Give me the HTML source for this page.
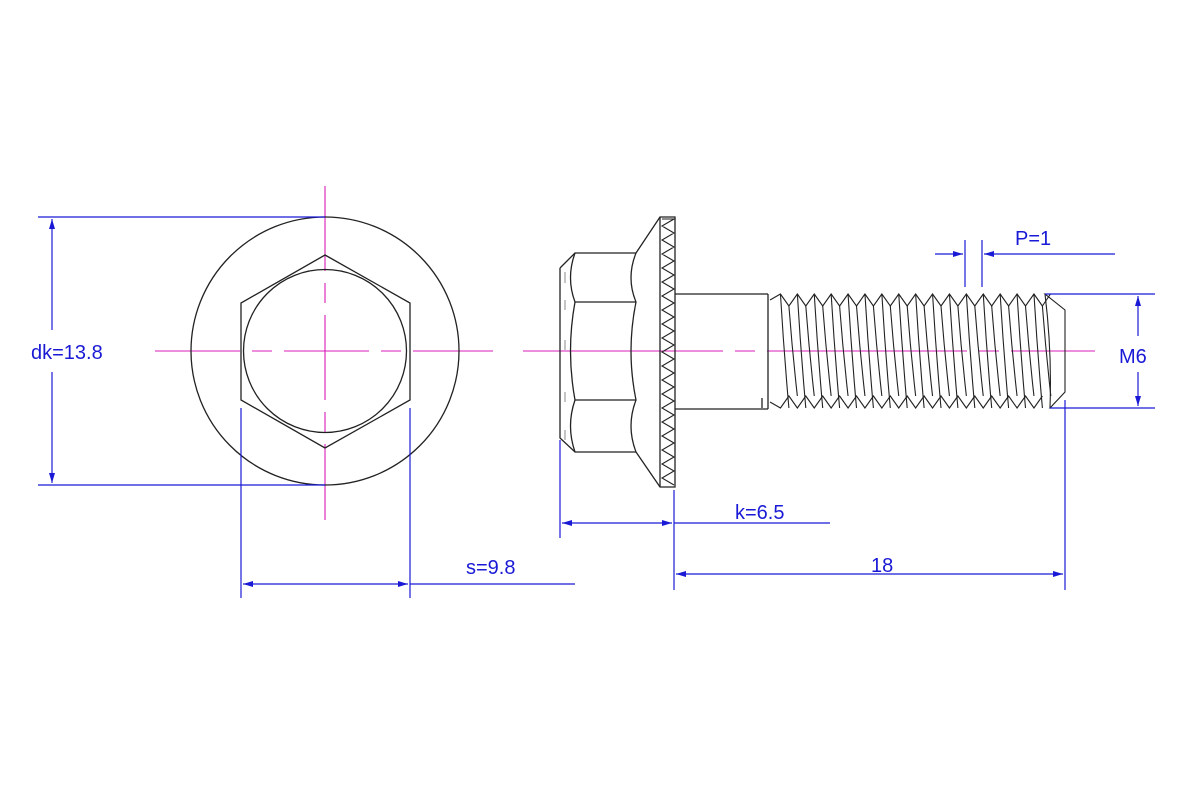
<!DOCTYPE html>
<html><head><meta charset="utf-8"><style>
html,body{margin:0;padding:0;background:#fff;}
svg{display:block}
text{font-family:"Liberation Sans",sans-serif;font-size:20px;fill:#1a1ad6}
</style></head><body>
<svg id="s" width="1200" height="800" viewBox="0 0 1200 800" xmlns="http://www.w3.org/2000/svg">
<defs>
<marker id="a" viewBox="0 0 10 6" refX="10" refY="3" markerWidth="14" markerHeight="6" markerUnits="userSpaceOnUse" orient="auto-start-reverse"><path d="M0,0L10,3L0,6z" fill="#1a1ad6"/></marker>
</defs>
<rect width="1200" height="800" fill="#fff"/>
<g stroke="#d81cb8" stroke-width="1.1" fill="none">
<path d="M155 351H493" stroke-dasharray="85,12,20,12"/>
<path d="M325 186V520" stroke-dasharray="85,12,20,12"/>
<path d="M523 351H1095" stroke-dasharray="200,12,20,12"/>
</g>
<g stroke="#222" stroke-width="1.3" fill="none">
<circle cx="325" cy="351" r="134"/>
<path d="M325 255L410 303V400L325 448L241 400V303Z"/>
<circle cx="325" cy="351" r="81.5"/>
</g>
<g stroke="#222" stroke-width="1.3" fill="none" id="head">
<path d="M560 268L575 253H636M560 268V438L575 452H636"/>
<path d="M575 302H636M575 400H636"/>
<path d="M575 253Q566 278 575 302Q566 351 575 400Q566 426 575 452"/>
<path d="M636 253Q626 278 636 302Q626 351 636 400Q626 426 636 452"/>
<path d="M636 253L660 217H675V487H660L636 452"/>
<path d="M660 217V487"/>
<path d="M675 294H768M675 409H768"/>
<path d="M768 294V409M762 398V408"/>
<path d="M565 272V283M565 300V310M565 340V350M565 392V402M565 430V440" stroke="#888" stroke-width="1"/>
</g>
<g id="thr" stroke="#222" stroke-width="1.1" fill="none"></g>
<g stroke="#1a1ad6" stroke-width="1.2" fill="none">
<path d="M38 217H325M38 485H325"/>
<path d="M52 330V219" marker-end="url(#a)"/>
<path d="M52 372V483" marker-end="url(#a)"/>
<path d="M241 408V598M410 408V598"/>
<path d="M410 584H575"/>
<path d="M243 584H408" marker-start="url(#a)" marker-end="url(#a)"/>
<path d="M560 440V538M674 490V590"/>
<path d="M562 523H672" marker-start="url(#a)" marker-end="url(#a)"/>
<path d="M674 523H830"/>
<path d="M1065 400V590"/>
<path d="M676 574H1063" marker-start="url(#a)" marker-end="url(#a)"/>
<path d="M1045 294H1155M1050 408H1155"/>
<path d="M1138 336V296" marker-end="url(#a)"/>
<path d="M1138 372V406" marker-end="url(#a)"/>
<path d="M965 240V287M982 240V287"/>
<path d="M935 254H963" marker-end="url(#a)"/>
<path d="M1115 254H984" marker-end="url(#a)"/>
</g>
<text x="31" y="359">dk=13.8</text>
<text x="466" y="574">s=9.8</text>
<text x="735" y="519">k=6.5</text>
<text x="871" y="572">18</text>
<text x="1119" y="363">M6</text>
<text x="1015" y="245">P=1</text>
</svg>
<script>
(function(){
var ns="http://www.w3.org/2000/svg";
var g=document.getElementById('thr');
function p(d){var e=document.createElementNS(ns,'path');e.setAttribute('d',d);g.appendChild(e);}
var z="M662 219";for(var y=219,i=0;y<486;y+=7,i++){z+=" L"+(i%2?662:674)+" "+y;}p(z);
var P=16.9,x0=772,top1=294,top2=306,bot1=408,bot2=396;
var t="M770 300",b="M770 402";
var n=16;
for(var i=0;i<n;i++){var cx=x0+P*i+P/2;t+=" L"+(cx)+" "+top1+" L"+(cx+P/2)+" "+top2;b+=" L"+(cx)+" "+bot1+" L"+(cx+P/2)+" "+bot2;}
p(t);p(b);
for(var i=0;i<n;i++){var cx=x0+P*i+P/2;
 p("M"+cx+" "+top1+" Q"+(cx+P*0.2)+" 351 "+(cx+P*0.5)+" "+bot1);
 p("M"+(cx+P/2)+" "+top2+" Q"+(cx+P*0.7)+" 351 "+(cx+P)+" "+bot2);}
var ex=x0+P*n;
p("M"+ex+" "+top2+" L"+(ex+8)+" "+top1+" L1045 294 L1065 310 V392 L1050 408 L"+(ex+8)+" "+bot1);
p("M1045 294 Q1052 351 1050 408");
})();
</script>
</body></html>
